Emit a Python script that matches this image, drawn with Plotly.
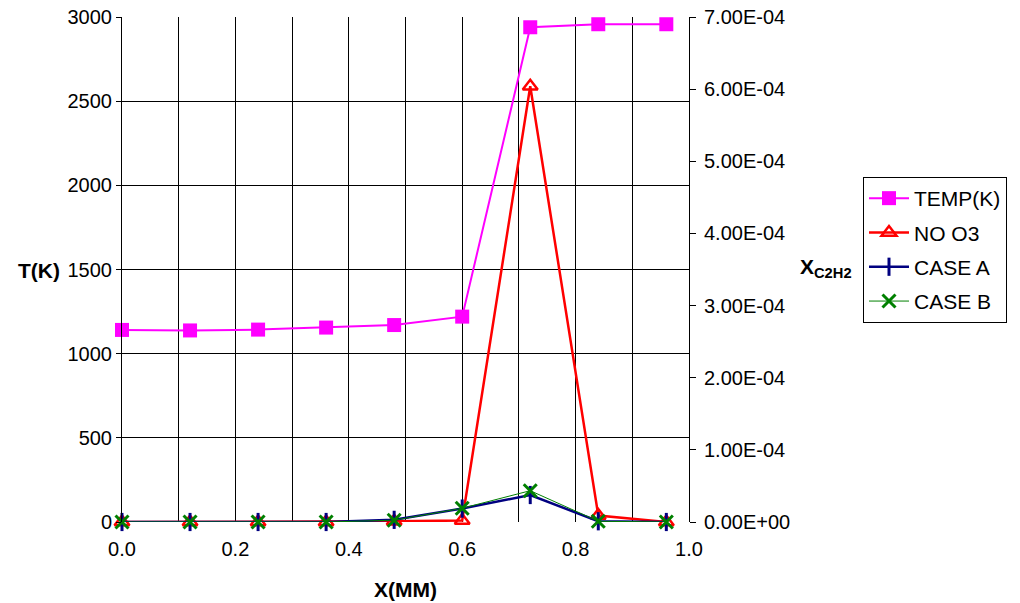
import plotly.graph_objects as go

# Axial position (mm)
x_mm = [0.0, 0.12, 0.24, 0.36, 0.48, 0.60, 0.72, 0.84, 0.96]

# Temperature profile (K), left axis
temp_k = [1141, 1138, 1143, 1155, 1170, 1220, 2939, 2957, 2957]

# C2H2 mole fraction, right axis
no_o3 = [0.0, 0.0, 0.0, 0.0, 1.0e-6, 2.0e-6, 6.04e-4, 9.0e-6, 0.0]
case_a = [0.0, 0.0, 0.0, 0.0, 3.0e-6, 1.86e-5, 3.74e-5, 1.0e-6, 0.0]
case_b = [0.0, 0.0, 0.0, 0.0, 2.5e-6, 1.9e-5, 4.34e-5, 1.0e-6, 0.0]

left_ticks = [0, 500, 1000, 1500, 2000, 2500, 3000]
right_ticks = [0, 1e-4, 2e-4, 3e-4, 4e-4, 5e-4, 6e-4, 7e-4]
right_labels = ["0.00E+00", "1.00E-04", "2.00E-04", "3.00E-04",
                "4.00E-04", "5.00E-04", "6.00E-04", "7.00E-04"]
x_ticks = [0.0, 0.2, 0.4, 0.6, 0.8, 1.0]
x_labels = ["0.0", "0.2", "0.4", "0.6", "0.8", "1.0"]

FONT = "Liberation Sans, Arial, sans-serif"
FS = 20

fig = go.Figure()

fig.add_trace(go.Scatter(
    x=x_mm, y=temp_k, name="TEMP(K)", legendgroup="t",
    mode="lines+markers", cliponaxis=False,
    line=dict(color="#FF00FF", width=2),
    marker=dict(symbol="square", size=14, color="#FF00FF"),
))
fig.add_trace(go.Scatter(
    x=x_mm, y=no_o3, name="NO O3", legendgroup="n", yaxis="y2",
    mode="lines+markers", cliponaxis=False,
    line=dict(color="#FF0000", width=2.5),
    marker=dict(symbol="triangle-up-open", size=13, color="#FF0000",
                line=dict(width=2.5, color="#FF0000")),
))
fig.add_trace(go.Scatter(
    x=x_mm, y=case_a, name="CASE A", legendgroup="a", yaxis="y2",
    mode="lines+markers", cliponaxis=False,
    line=dict(color="#000080", width=2.5),
    marker=dict(symbol="line-ns", size=13, color="#000080",
                line=dict(width=3, color="#000080")),
))
fig.add_trace(go.Scatter(
    x=x_mm, y=case_b, name="CASE B", legendgroup="b", yaxis="y2",
    mode="lines+markers", cliponaxis=False,
    line=dict(color="#008000", width=1),
    marker=dict(symbol="x-thin-open", size=13, color="#008000",
                line=dict(width=3, color="#008000")),
))

fig.update_layout(
    width=1020, height=603,
    margin=dict(l=122, r=331, t=17, b=81),
    paper_bgcolor="white", plot_bgcolor="white",
    font=dict(family=FONT, size=FS, color="black"),
    showlegend=True,
    legend=dict(
        x=(863 - 122) / 567, y=(522 - 177) / 505, xanchor="left", yanchor="top",
        bgcolor="white", bordercolor="black", borderwidth=1,
        font=dict(family=FONT, size=21, color="black"),
        tracegroupgap=4, itemwidth=40,
    ),
    xaxis=dict(
        range=[0, 1.0], tickvals=x_ticks, ticktext=x_labels,
        showgrid=True, gridcolor="black", gridwidth=1,
        minor=dict(dtick=0.1, showgrid=True, gridcolor="black", gridwidth=1),
        ticks="outside", ticklen=9, tickcolor="rgba(0,0,0,0)",
        showline=False, zeroline=False, automargin=False,
        tickfont=dict(family=FONT, size=FS),
    ),
    yaxis=dict(
        range=[0, 3000], tickvals=left_ticks,
        showgrid=True, gridcolor="black", gridwidth=1,
        showline=True, linecolor="black", linewidth=1,
        ticks="outside", ticklen=5, tickcolor="black",
        zeroline=False, automargin=False,
        tickfont=dict(family=FONT, size=FS),
    ),
    yaxis2=dict(
        range=[0, 7e-4], tickvals=right_ticks, ticktext=right_labels,
        overlaying="y", side="right", anchor="x",
        showgrid=False, zeroline=False, automargin=False,
        showline=True, linecolor="black", linewidth=1,
        ticks="outside", ticklen=6, tickcolor="black",
        ticklabelstandoff=4,
        tickfont=dict(family=FONT, size=FS),
    ),
    yaxis3=dict(
        range=[0, 7e-4], tickvals=right_ticks,
        overlaying="y", side="right", anchor="x",
        showgrid=False, zeroline=False, showline=False,
        showticklabels=False, automargin=False,
        ticks="inside", ticklen=6, tickcolor="black",
    ),
)

# Axis titles
fig.add_annotation(text="<b>T(K)</b>", xref="paper", yref="paper",
                   x=(39 - 122) / 567, y=(522 - 270) / 505,
                   xanchor="center", yanchor="middle",
                   showarrow=False, font=dict(family=FONT, size=21))
fig.add_annotation(text="<b>X(MM)</b>", xref="paper", yref="paper",
                   x=(405 - 122) / 567, y=-(589 - 522) / 505,
                   xanchor="center", yanchor="middle",
                   showarrow=False, font=dict(family=FONT, size=21))
fig.add_annotation(text="<b>X<sub>C2H2</sub></b>", xref="paper", yref="paper",
                   x=(826 - 122) / 567, y=(522 - 268) / 505,
                   xanchor="center", yanchor="middle",
                   showarrow=False, font=dict(family=FONT, size=21))

fig.write_html("out.html")
